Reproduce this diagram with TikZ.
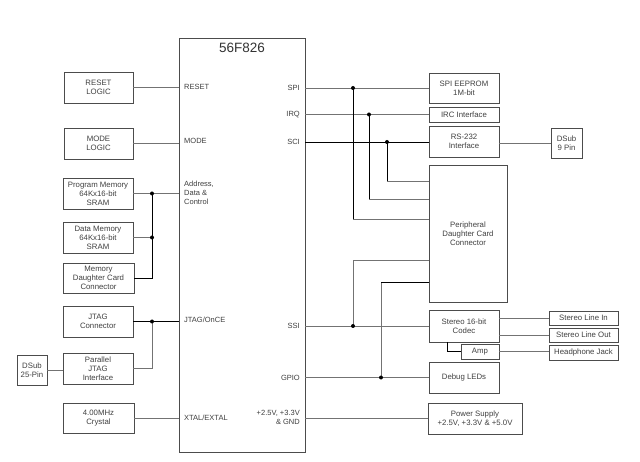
\documentclass[tikz,border=0pt]{standalone}
\usepackage{fontspec}
\setmainfont{Liberation Sans}
\begin{document}
\begin{tikzpicture}[x=1pt,y=-1pt,
  blk/.style={draw=black!70,line width=0.7pt,inner sep=0pt,align=center,font=\fontsize{7.8}{9}\selectfont,text=black!75},
  pinl/.style={inner sep=0pt,anchor=west,align=left,font=\fontsize{7.5}{9}\selectfont,text=black!75},
  pinr/.style={inner sep=0pt,anchor=east,align=right,font=\fontsize{7.5}{9}\selectfont,text=black!75},
  wire/.style={draw=black!55,line width=0.8pt},
  bus/.style={draw=black,line width=0.9pt},
  dot/.style={circle,fill=black,inner sep=0pt,minimum size=4pt}]
\useasboundingbox[fill=white] (0,0) rectangle (640,462);
% chip
\node[draw=black!70,line width=0.7pt,minimum width=126pt,minimum height=414pt,inner sep=0pt] (chip) at (242,245) {};
\node[font=\fontsize{13.5}{15}\selectfont,text=black!80] (title) at (242,48) {56F826};
\node[pinl] (lreset) at (184,87) {RESET};
\node[pinl] (lmode) at (184,141) {MODE};
\node[pinl] (laddr) at (184,193) {Address,\\Data \&\\Control};
\node[pinl] (ljtag) at (184,320) {JTAG/OnCE};
\node[pinl] (lxtal) at (184,418) {XTAL/EXTAL};
\node[pinr] (lspi) at (300,88) {SPI};
\node[pinr] (lirq) at (300,115) {IRQ};
\node[pinr] (lsci) at (300,142) {SCI};
\node[pinr] (lssi) at (300,326) {SSI};
\node[pinr] (lgpio) at (300,378) {GPIO};
\node[pinr] (lpwr) at (300,417) {+2.5V, +3.3V\\\& GND};
% left blocks
\node[blk,minimum width=69pt,minimum height=31pt] (reset) at (98.5,87.5) {RESET\\LOGIC};
\node[blk,minimum width=69pt,minimum height=31pt] (mode) at (98.5,143.5) {MODE\\LOGIC};
\node[blk,minimum width=70pt,minimum height=31pt] (prog) at (98,193.5) {Program Memory\\64Kx16-bit\\SRAM};
\node[blk,minimum width=70pt,minimum height=31pt] (data) at (98,237.5) {Data Memory\\64Kx16-bit\\SRAM};
\node[blk,minimum width=71pt,minimum height=30pt] (memdc) at (98.5,278) {Memory\\Daughter Card\\Connector};
\node[blk,minimum width=70pt,minimum height=31pt] (jtag) at (98,321.5) {JTAG\\Connector};
\node[blk,minimum width=70pt,minimum height=31pt] (pjtag) at (98,368.5) {Parallel\\JTAG\\Interface};
\node[blk,minimum width=30pt,minimum height=30pt] (dsub25) at (32,370) {DSub\\25-Pin};
\node[blk,minimum width=71pt,minimum height=30pt] (xtal) at (98.5,418) {4.00MHz\\Crystal};
% right blocks
\node[blk,minimum width=70pt,minimum height=30pt] (eeprom) at (464,88) {SPI EEPROM\\1M-bit};
\node[blk,minimum width=70pt,minimum height=15pt] (irc) at (464,114.5) {IRC Interface};
\node[blk,minimum width=70pt,minimum height=31pt] (rs232) at (464,141.5) {RS-232\\Interface};
\node[blk,minimum width=31pt,minimum height=30pt] (dsub9) at (566.5,143) {DSub\\9 Pin};
\node[blk,minimum width=78pt,minimum height=137pt] (periph) at (468,233.5) {Peripheral\\Daughter Card\\Connector};
\node[blk,minimum width=70pt,minimum height=32pt] (codec) at (464,326) {Stereo 16-bit\\Codec};
\node[blk,minimum width=38pt,minimum height=15pt] (amp) at (480,351.5) {Amp};
\node[blk,minimum width=70pt,minimum height=31pt] (leds) at (464,377.5) {Debug LEDs};
\node[blk,minimum width=94pt,minimum height=31pt] (power) at (475,418.5) {Power Supply\\+2.5V, +3.3V \& +5.0V};
\node[blk,minimum width=69pt,minimum height=14pt] (linein) at (583.5,318) {Stereo Line In};
\node[blk,minimum width=69pt,minimum height=14pt] (lineout) at (583.5,335) {Stereo Line Out};
\node[blk,minimum width=69pt,minimum height=15pt] (hpjack) at (583.5,352.5) {Headphone Jack};
% junction coordinates
\coordinate (jm1) at (152,193.5);
\coordinate (jm2) at (152,237.5);
\coordinate (jj) at (152,321.5);
\coordinate (j1) at (353,88);
\coordinate (j2) at (369,114.5);
\coordinate (j3) at (387,142);
\coordinate (j4) at (353,326);
\coordinate (j5) at (381,377.5);
\coordinate (p1) at (429,181);
\coordinate (p2) at (429,199);
\coordinate (p3) at (429,219);
\coordinate (p4) at (429,260);
\coordinate (p5) at (429,282);
\coordinate (ca) at (447,342);
% left wires
\draw[wire] (reset.east) -- (reset.east -| chip.west);
\draw[wire] (mode.east) -- (mode.east -| chip.west);
\draw[wire] (prog.east) -- (prog.east -| chip.west);
\draw[wire] (data.east) -- (jm2);
\draw[bus] (jm2) -- (jm1);
\draw[bus] (memdc.east) -| (jm2);
\draw[bus] (jtag.east) -- (jtag.east -| chip.west);
\draw[wire] (pjtag.east) -| (jj);
\draw[wire] (dsub25.east) -- (dsub25.east -| pjtag.west);
\draw[wire] (xtal.east) -- (xtal.east -| chip.west);
% right wires
\draw[wire] (chip.east |- eeprom.west) -- (eeprom.west);
\draw[wire] (chip.east |- irc.west) -- (irc.west);
\draw[bus] (chip.east |- j3) -- (rs232.west |- j3);
\draw[wire] (rs232.east |- dsub9.west) -- (dsub9.west);
\draw[bus] (j3) -- (j3 |- p1);
\draw[wire] (j3 |- p1) -- (p1);
\draw[bus] (j2) -- (j2 |- p2);
\draw[wire] (j2 |- p2) -- (p2);
\draw[bus] (j1) -- (j1 |- p3);
\draw[wire] (j1 |- p3) -- (p3);
\draw[wire] (chip.east |- codec.west) -- (codec.west);
\draw[wire] (j4) |- (p4);
\draw[wire] (chip.east |- leds.west) -- (leds.west);
\draw[wire] (j5) -- (j5 |- p5);
\draw[bus] (j5 |- p5) -- (p5);
\draw[wire] (chip.east |- power.west) -- (power.west);
\draw[wire] (codec.east |- linein.west) -- (linein.west);
\draw[wire] (codec.east |- lineout.west) -- (lineout.west);
\draw[wire] (amp.east) -- (amp.east -| hpjack.west);
\draw[bus] (ca) |- (amp.west);
% dots
\foreach \p in {jm1,jm2,jj,j1,j2,j3,j4,j5} \node[dot] at (\p) {};
\end{tikzpicture}
\end{document}
